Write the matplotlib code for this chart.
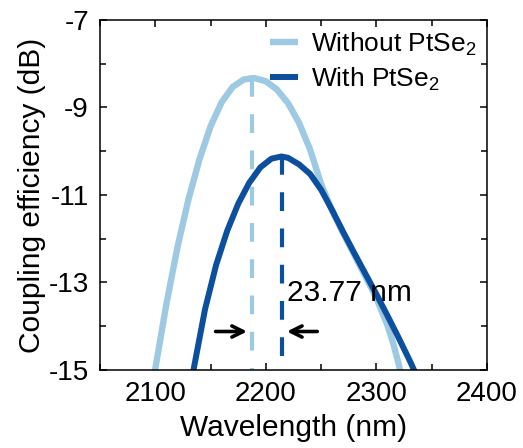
import numpy as np
import matplotlib
matplotlib.use('Agg')
import matplotlib.pyplot as plt
from matplotlib.ticker import MultipleLocator

plt.rcParams['font.family'] = ['Liberation Sans', 'DejaVu Sans']
plt.rcParams['mathtext.fontset'] = 'custom'
plt.rcParams['mathtext.rm'] = 'Liberation Sans'
plt.rcParams['mathtext.default'] = 'regular'
plt.rcParams['axes.unicode_minus'] = False

# Data (wavelength nm, coupling efficiency dB)
wl_without = [2098, 2100, 2110, 2120, 2130, 2140, 2150, 2160, 2170, 2180,
              2188, 2190, 2200, 2210, 2220, 2230, 2240, 2250, 2260, 2270,
              2280, 2290, 2300, 2310, 2315, 2320, 2323]
ce_without = [-15.3, -14.97, -13.5, -12.2, -11.1, -10.18, -9.43, -8.88, -8.53, -8.36,
              -8.33, -8.33, -8.40, -8.59, -8.90, -9.35, -9.96, -10.75, -11.36, -11.88,
              -12.37, -12.86, -13.36, -13.98, -14.38, -14.85, -15.2]

wl_with = [2134, 2135, 2145, 2155, 2165, 2175, 2185, 2195, 2205, 2214,
           2220, 2230, 2240, 2250, 2260, 2270, 2280, 2290, 2300, 2310,
           2320, 2330, 2334, 2336]
ce_with = [-15.1, -14.94, -13.61, -12.6, -11.82, -11.2, -10.72, -10.37, -10.17, -10.12,
           -10.15, -10.3, -10.52, -10.88, -11.35, -11.85, -12.33, -12.8, -13.27, -13.76,
           -14.26, -14.78, -15.0, -15.1]

peak_without = 2187.5
peak_with = 2214.5
shift_label = '23.77 nm'

light = '#9dcae2'
dark = '#0b4f9e'

fig = plt.figure(figsize=(5.23, 4.48), dpi=100)
ax = fig.add_axes([0.1912, 0.1741, 0.74, 0.7813])

ax.plot(wl_without, ce_without, color=light, lw=4.6, label='Without PtSe$_2$',
        solid_capstyle='butt')
ax.plot(wl_with, ce_with, color=dark, lw=4.3, label='With PtSe$_2$',
        solid_capstyle='butt')

# vertical dashed lines at the peaks
ax.plot([peak_without, peak_without], [max(ce_without), -15], color=light,
        lw=3, dashes=(4.5, 4.2))
ax.plot([peak_with, peak_with], [max(ce_with), -15], color=dark,
        lw=3, dashes=(4.5, 4.2))

# arrows
ax.annotate('', xy=(peak_without - 2, -14.12), xytext=(2152, -14.12),
            arrowprops=dict(arrowstyle='->', color='black', lw=2.6,
                            mutation_scale=20))
ax.annotate('', xy=(peak_with + 2, -14.12), xytext=(2249, -14.12),
            arrowprops=dict(arrowstyle='->', color='black', lw=2.6,
                            mutation_scale=20))
ax.text(2219, -13.24, shift_label, fontsize=21.5, va='center', ha='left')

ax.set_xlim(2050, 2400)
ax.set_ylim(-15, -7)
ax.set_xticks([2100, 2200, 2300, 2400])
ax.set_yticks([-15, -13, -11, -9, -7])
ax.xaxis.set_minor_locator(MultipleLocator(50))
ax.yaxis.set_minor_locator(MultipleLocator(1))
ax.tick_params(which='both', direction='in', top=True, right=True,
               labelsize=20, width=1.1)
ax.tick_params(which='major', length=5, pad=8)
ax.tick_params(which='minor', length=4)
for s in ax.spines.values():
    s.set_linewidth(1.1)

ax.set_xlabel('Wavelength (nm)', fontsize=21.5, labelpad=5)
ax.set_ylabel('Coupling efficiency (dB)', fontsize=21.5, labelpad=2)

ax.legend(loc='upper right', frameon=False, fontsize=19, handlelength=1.05,
          handletextpad=0.5, borderaxespad=0.1, labelspacing=0.3,
          borderpad=0.3)

fig.savefig('out.png', dpi=100)
